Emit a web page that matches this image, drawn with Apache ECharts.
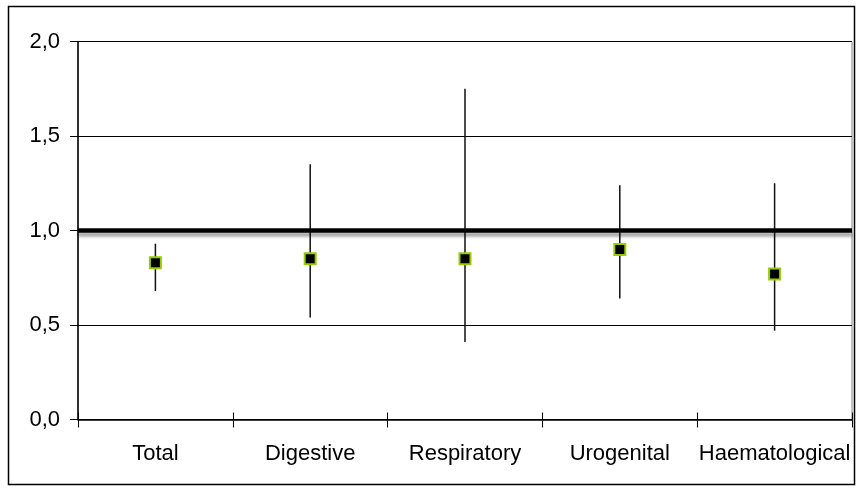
<!DOCTYPE html>
<html>
<head>
<meta charset="utf-8">
<script src="https://cdn.jsdelivr.net/npm/echarts@6/dist/echarts.min.js"></script>
<style>html,body{margin:0;padding:0;background:#fff;}#c{width:858px;height:489px;}</style>
</head>
<body>
<div id="c"></div>
<script>
var categories = ['Total', 'Digestive', 'Respiratory', 'Urogenital', 'Haematological'];
var estimates = [0.83, 0.85, 0.85, 0.90, 0.77];
var lowerCI = [0.68, 0.54, 0.41, 0.64, 0.47];
var upperCI = [0.93, 1.35, 1.75, 1.24, 1.25];
var referenceValue = 1.0;
var yTicks = [0, 0.5, 1.0, 1.5, 2.0];

var chart = echarts.init(document.getElementById('c'));
var font = 'Liberation Sans, Arial, sans-serif';
var errData = categories.map(function (c, i) { return [i, lowerCI[i], upperCI[i]]; });
var ptData = categories.map(function (c, i) { return [i, estimates[i]]; });

chart.setOption({
  animation: false,
  backgroundColor: '#fff',
  graphic: [{
    type: 'rect', shape: { x: 8.5, y: 6.5, width: 846, height: 478 },
    style: { fill: 'none', stroke: '#000', lineWidth: 1.5 }, silent: true, z: -10
  }],
  grid: { left: 78, top: 41.5, width: 774, height: 378, show: true, borderColor: '#808080', borderWidth: 1, backgroundColor: 'transparent' },
  xAxis: [{
    type: 'category', data: categories, boundaryGap: true,
    axisLine: { lineStyle: { color: '#000', width: 1.5 } },
    axisTick: { show: true, length: 8, interval: 0, lineStyle: { color: '#000', width: 1 } },
    axisLabel: { color: '#000', fontFamily: font, fontSize: 22, margin: 23, interval: 0 },
    splitLine: { show: false }
  }, {
    type: 'category', data: categories, boundaryGap: true, position: 'bottom',
    axisLine: { show: false },
    axisTick: { show: true, inside: true, length: 7, interval: 0, lineStyle: { color: '#000', width: 1 } },
    axisLabel: { show: false }, splitLine: { show: false }
  }],
  yAxis: {
    type: 'value', min: 0, max: 2, interval: 0.5,
    axisLine: { show: true, lineStyle: { color: '#000', width: 1.5 } },
    axisTick: { show: true, length: 8, lineStyle: { color: '#000', width: 1 } },
    axisLabel: {
      color: '#000', fontFamily: font, fontSize: 22, margin: 18,
      formatter: function (v) { return v.toFixed(1).replace('.', ','); }
    },
    splitLine: { show: true, lineStyle: { color: '#000', width: 1 } }
  },
  series: [{
    type: 'custom',
    data: errData,
    z: 3,
    renderItem: function (params, api) {
      var p1 = api.coord([api.value(0), api.value(1)]);
      var p2 = api.coord([api.value(0), api.value(2)]);
      return { type: 'line', shape: { x1: p1[0], y1: p1[1], x2: p2[0], y2: p2[1] },
        style: { stroke: '#111', lineWidth: 1.5 } };
    },
    markLine: {
      silent: true, symbol: 'none', z: 5,
      label: { show: false },
      lineStyle: { color: '#000', width: 4.5, type: 'solid', shadowColor: 'rgba(0,0,0,0.35)', shadowOffsetY: 4, shadowBlur: 3 },
      data: [{ yAxis: referenceValue }]
    }
  }, {
    type: 'scatter',
    data: ptData,
    z: 6,
    symbol: 'rect', symbolSize: 11,
    itemStyle: { color: '#000', borderColor: '#99cc00', borderWidth: 2, opacity: 1 }
  }]
});
</script>
</body>
</html>
